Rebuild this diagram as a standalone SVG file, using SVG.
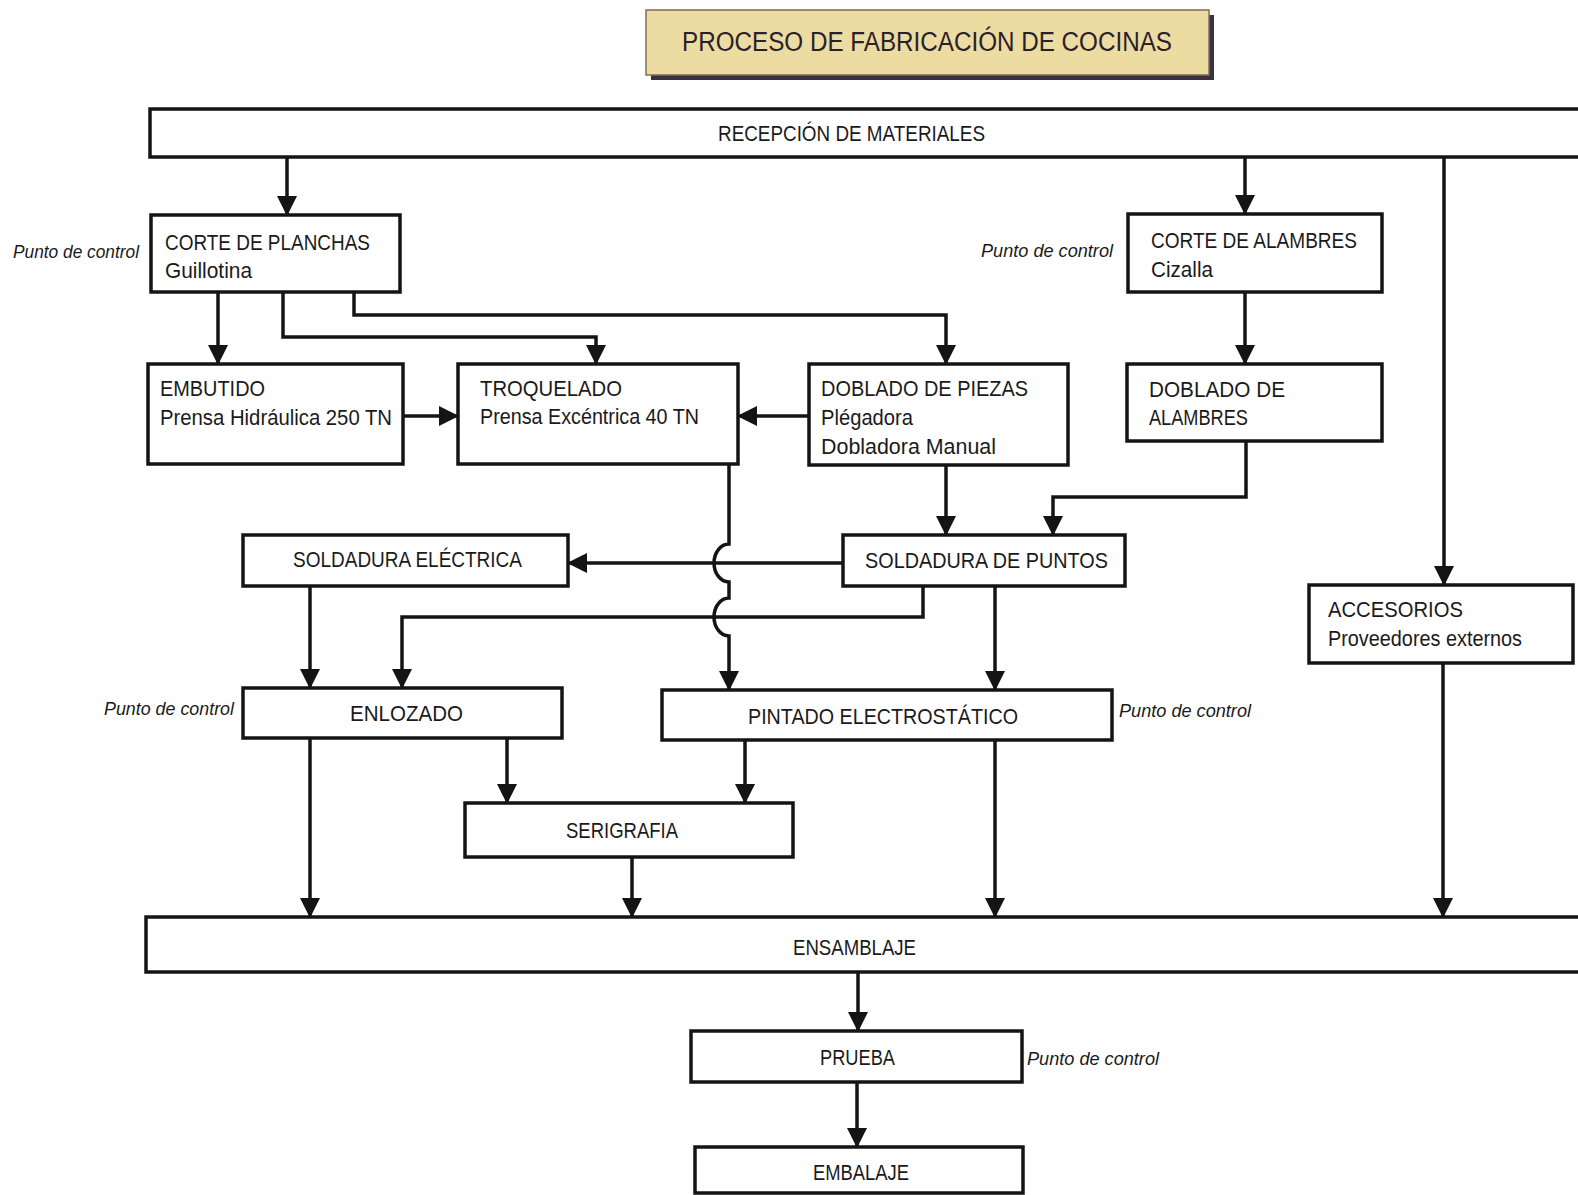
<svg xmlns="http://www.w3.org/2000/svg" width="1578" height="1195" viewBox="0 0 1578 1195">
  <defs>
    <style>
      .box { fill: #ffffff; stroke: #141414; stroke-width: 3.5; }
      .wire { fill: none; stroke: #141414; stroke-width: 3.5; }
      .lbl { font-family: "Liberation Sans", Arial, sans-serif; font-size: 22px; fill: #1a1a1a; }
      .pc { font-family: "Liberation Sans", Arial, sans-serif; font-size: 18px; font-style: italic; fill: #1a1a1a; }
      .ttl { font-family: "Liberation Sans", Arial, sans-serif; font-size: 27px; fill: #2a202a; }
    </style>
    <marker id="ah" viewBox="0 0 20 20" refX="19" refY="10" markerWidth="20" markerHeight="20" orient="auto" markerUnits="userSpaceOnUse">
      <path d="M0,0 L20,10 L0,20 z" fill="#141414"/>
    </marker>
  </defs>

  <rect width="1578" height="1195" fill="#ffffff"/>

  <!-- title banner -->
  <g id="title">
    <rect x="651" y="15" width="563" height="65" fill="#3b3040"/>
    <rect x="646" y="10" width="563" height="65" fill="#ecdca2" stroke="#7d6d5a" stroke-width="1.5"/>
    <text class="ttl" x="682" y="51" textLength="490" lengthAdjust="spacingAndGlyphs">PROCESO DE FABRICACIÓN DE COCINAS</text>
  </g>

  <!-- connectors -->
  <g id="connectors">
    <path class="wire" d="M287,157 V215" marker-end="url(#ah)"/>
    <path class="wire" d="M1245,157 V214" marker-end="url(#ah)"/>
    <path class="wire" d="M1444,157 V585" marker-end="url(#ah)"/>
    <path class="wire" d="M218,292 V364" marker-end="url(#ah)"/>
    <path class="wire" d="M283,292 V337 H596 V364" marker-end="url(#ah)"/>
    <path class="wire" d="M354,292 V315 H946 V364" marker-end="url(#ah)"/>
    <path class="wire" d="M403,416 H458" marker-end="url(#ah)"/>
    <path class="wire" d="M809,416 H738" marker-end="url(#ah)"/>
    <path class="wire" d="M1245,292 V364" marker-end="url(#ah)"/>
    <path class="wire" d="M946,465 V535" marker-end="url(#ah)"/>
    <path class="wire" d="M1246,441 V497 H1053 V535" marker-end="url(#ah)"/>
    <path class="wire" d="M843,563 H568" marker-end="url(#ah)"/>
    <path class="wire" d="M923,586 V617 H402 V688" marker-end="url(#ah)"/>
    <!-- line from TROQUELADO hops over the two horizontal runs -->
    <path class="wire" d="M729,464 V544 A15,19 0 0 0 729,582 V598 A15,19 0 0 0 729,636 V690" marker-end="url(#ah)"/>
    <path class="wire" d="M310,586 V688" marker-end="url(#ah)"/>
    <path class="wire" d="M995,586 V690" marker-end="url(#ah)"/>
    <path class="wire" d="M310,738 V917" marker-end="url(#ah)"/>
    <path class="wire" d="M507,738 V803" marker-end="url(#ah)"/>
    <path class="wire" d="M745,740 V803" marker-end="url(#ah)"/>
    <path class="wire" d="M632,857 V917" marker-end="url(#ah)"/>
    <path class="wire" d="M995,740 V917" marker-end="url(#ah)"/>
    <path class="wire" d="M1443,663 V917" marker-end="url(#ah)"/>
    <path class="wire" d="M858,972 V1031" marker-end="url(#ah)"/>
    <path class="wire" d="M857,1082 V1147" marker-end="url(#ah)"/>
  </g>

  <!-- nodes -->
  <g id="recepcion">
    <rect class="box" x="150" y="109" width="1460" height="48"/>
    <text class="lbl" x="718" y="141" textLength="267" lengthAdjust="spacingAndGlyphs">RECEPCIÓN DE MATERIALES</text>
  </g>

  <g id="corte-planchas">
    <rect class="box" x="151" y="215" width="249" height="77"/>
    <text class="lbl" x="165" y="250" textLength="205" lengthAdjust="spacingAndGlyphs">CORTE DE PLANCHAS</text>
    <text class="lbl" x="165" y="278" textLength="87" lengthAdjust="spacingAndGlyphs">Guillotina</text>
    <text class="pc" x="13" y="258" textLength="126" lengthAdjust="spacingAndGlyphs">Punto de control</text>
  </g>

  <g id="corte-alambres">
    <rect class="box" x="1128" y="214" width="254" height="78"/>
    <text class="lbl" x="1151" y="248" textLength="206" lengthAdjust="spacingAndGlyphs">CORTE DE ALAMBRES</text>
    <text class="lbl" x="1151" y="277" textLength="62" lengthAdjust="spacingAndGlyphs">Cizalla</text>
    <text class="pc" x="981" y="257" textLength="132" lengthAdjust="spacingAndGlyphs">Punto de control</text>
  </g>

  <g id="embutido">
    <rect class="box" x="148" y="364" width="255" height="100"/>
    <text class="lbl" x="160" y="396" textLength="105" lengthAdjust="spacingAndGlyphs">EMBUTIDO</text>
    <text class="lbl" x="160" y="425" textLength="232" lengthAdjust="spacingAndGlyphs">Prensa Hidráulica 250 TN</text>
  </g>

  <g id="troquelado">
    <rect class="box" x="458" y="364" width="280" height="100"/>
    <text class="lbl" x="480" y="396" textLength="142" lengthAdjust="spacingAndGlyphs">TROQUELADO</text>
    <text class="lbl" x="480" y="424" textLength="219" lengthAdjust="spacingAndGlyphs">Prensa Excéntrica 40 TN</text>
  </g>

  <g id="doblado-piezas">
    <rect class="box" x="809" y="364" width="259" height="101"/>
    <text class="lbl" x="821" y="396" textLength="207" lengthAdjust="spacingAndGlyphs">DOBLADO DE PIEZAS</text>
    <text class="lbl" x="821" y="425" textLength="92" lengthAdjust="spacingAndGlyphs">Plégadora</text>
    <text class="lbl" x="821" y="454" textLength="175" lengthAdjust="spacingAndGlyphs">Dobladora Manual</text>
  </g>

  <g id="doblado-alambres">
    <rect class="box" x="1127" y="364" width="255" height="77"/>
    <text class="lbl" x="1149" y="397" textLength="136" lengthAdjust="spacingAndGlyphs">DOBLADO DE</text>
    <text class="lbl" x="1149" y="425" textLength="99" lengthAdjust="spacingAndGlyphs">ALAMBRES</text>
  </g>

  <g id="soldadura-electrica">
    <rect class="box" x="243" y="535" width="325" height="51"/>
    <text class="lbl" x="293" y="567" textLength="229" lengthAdjust="spacingAndGlyphs">SOLDADURA ELÉCTRICA</text>
  </g>

  <g id="soldadura-puntos">
    <rect class="box" x="843" y="535" width="282" height="51"/>
    <text class="lbl" x="865" y="568" textLength="243" lengthAdjust="spacingAndGlyphs">SOLDADURA DE PUNTOS</text>
  </g>

  <g id="accesorios">
    <rect class="box" x="1309" y="585" width="264" height="78"/>
    <text class="lbl" x="1328" y="617" textLength="135" lengthAdjust="spacingAndGlyphs">ACCESORIOS</text>
    <text class="lbl" x="1328" y="646" textLength="194" lengthAdjust="spacingAndGlyphs">Proveedores externos</text>
  </g>

  <g id="enlozado">
    <rect class="box" x="243" y="688" width="319" height="50"/>
    <text class="lbl" x="350" y="721" textLength="113" lengthAdjust="spacingAndGlyphs">ENLOZADO</text>
    <text class="pc" x="104" y="715" textLength="130" lengthAdjust="spacingAndGlyphs">Punto de control</text>
  </g>

  <g id="pintado">
    <rect class="box" x="662" y="690" width="450" height="50"/>
    <text class="lbl" x="748" y="724" textLength="270" lengthAdjust="spacingAndGlyphs">PINTADO ELECTROSTÁTICO</text>
    <text class="pc" x="1119" y="717" textLength="132" lengthAdjust="spacingAndGlyphs">Punto de control</text>
  </g>

  <g id="serigrafia">
    <rect class="box" x="465" y="803" width="328" height="54"/>
    <text class="lbl" x="566" y="838" textLength="112" lengthAdjust="spacingAndGlyphs">SERIGRAFIA</text>
  </g>

  <g id="ensamblaje">
    <rect class="box" x="146" y="917" width="1464" height="55"/>
    <text class="lbl" x="793" y="955" textLength="123" lengthAdjust="spacingAndGlyphs">ENSAMBLAJE</text>
  </g>

  <g id="prueba">
    <rect class="box" x="691" y="1031" width="331" height="51"/>
    <text class="lbl" x="820" y="1065" textLength="75" lengthAdjust="spacingAndGlyphs">PRUEBA</text>
    <text class="pc" x="1027" y="1065" textLength="132" lengthAdjust="spacingAndGlyphs">Punto de control</text>
  </g>

  <g id="embalaje">
    <rect class="box" x="695" y="1147" width="328" height="46"/>
    <text class="lbl" x="813" y="1180" textLength="96" lengthAdjust="spacingAndGlyphs">EMBALAJE</text>
  </g>
</svg>
